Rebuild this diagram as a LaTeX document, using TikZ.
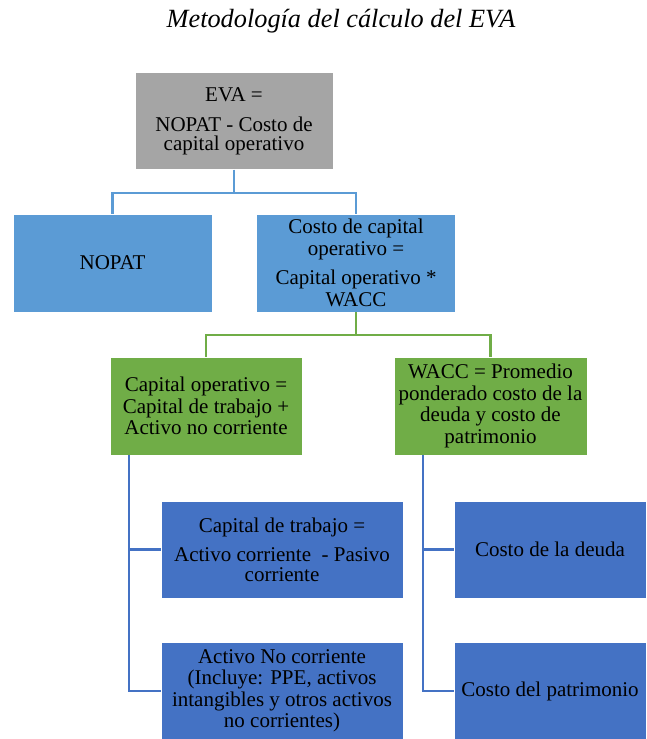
\documentclass[tikz,border=0pt]{standalone}
\usepackage{fontspec}
\setmainfont{Liberation Serif}
\newfontfamily\boxfont{Liberation Serif}
\definecolor{grayfill}{HTML}{A5A5A5}
\definecolor{lblue}{HTML}{5B9BD5}
\definecolor{dgreen}{HTML}{70AD47}
\definecolor{dblue}{HTML}{4472C4}
\begin{document}
\begin{tikzpicture}[x=1pt,y=-1pt,
  box/.style={rectangle, draw=white, line width=0.6pt, inner sep=0pt, outer sep=0pt,
    align=center, text=black, font=\boxfont\fontsize{21}{21.5}\selectfont},
  graybox/.style={box, fill=grayfill, minimum width=198pt, minimum height=97pt},
  lbox/.style={box, fill=lblue, minimum width=199pt, minimum height=98pt},
  gbox/.style={box, fill=dgreen, minimum width=192pt, minimum height=98pt},
  bbox/.style={box, fill=dblue, minimum width=242pt, minimum height=97pt},
  rbox/.style={box, fill=dblue, minimum width=192pt, minimum height=97pt},
  lconn/.style={draw=lblue, line width=2.6pt},
  gconn/.style={draw=dgreen, line width=2.6pt},
  bconn/.style={draw=dblue, line width=2.6pt}]
\useasboundingbox (0,0) rectangle (647,739);
\node[anchor=base, font=\boxfont\fontsize{26.3}{28}\selectfont\itshape] (title) at (341,27) {Metodología del cálculo del EVA};

\node[graybox, font=\boxfont\fontsize{21}{19}\selectfont] (eva) at (234,121) {EVA =\\[11pt]NOPAT - Costo de\\capital operativo};
\node[lbox] (nopat) at (112.5,263) {NOPAT};
\node[lbox] (costo) at (356,263) {Costo de capital\\operativo =\\[8pt]Capital operativo *\\WACC};
\node[gbox] (capop) at (206,406) {Capital operativo =\\Capital de trabajo +\\Activo no corriente};
\node[gbox, minimum width=193pt] (wacc) at (490.5,406) {WACC = Promedio\\ponderado costo de la\\deuda y costo de\\patrimonio};
\node[bbox] (captr) at (282,549.5) {Capital de trabajo =\\[8pt]Activo corriente\ \ - Pasivo\\[-2pt]corriente};
\node[bbox] (actnc) at (282,691) {Activo No corriente\\(Incluye: PPE, activos\\intangibles y otros activos\\no corrientes)};
\node[rbox] (deuda) at (550,549.5) {Costo de la deuda};
\node[rbox] (patr) at (550,691) {Costo del patrimonio};

\draw[lconn] (eva.south) -- ++(0,23.5) coordinate (tj) -| (nopat.north);
\draw[lconn] (tj) -| (costo.north);
\draw[gconn] (costo.south) -- ++(0,23) coordinate (gj) -| (capop.north);
\draw[gconn] (gj) -| (wacc.north);
\coordinate (lt) at ([xshift=19pt]capop.south west);
\coordinate (rt) at ([xshift=29pt]wacc.south west);
\draw[bconn] (lt) |- (captr.west);
\draw[bconn] (lt) |- (actnc.west);
\draw[bconn] (rt) |- (deuda.west);
\draw[bconn] (rt) |- (patr.west);
\end{tikzpicture}
\end{document}
